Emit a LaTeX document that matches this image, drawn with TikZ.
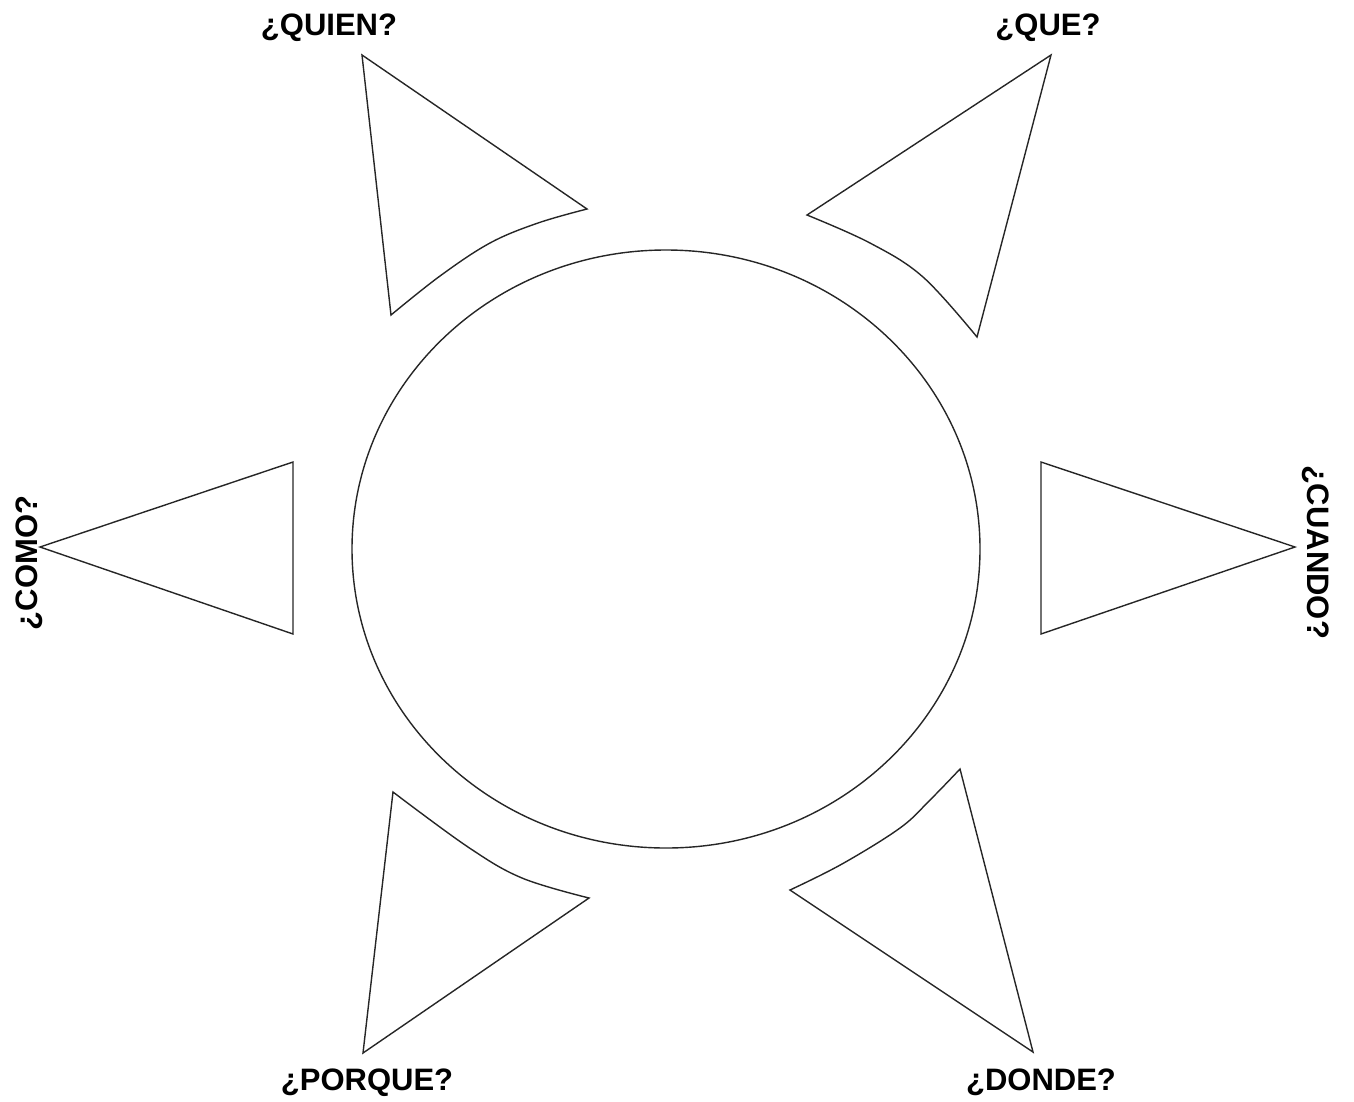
\documentclass[tikz,border=0pt]{standalone}
\usepackage{fontspec}
\setmainfont{Liberation Sans}
\begin{document}
\begin{tikzpicture}[x=1pt,y=-1pt,
  outline/.style={draw=black!85,line width=1.4pt,line join=miter},
  lbl/.style={font=\fontsize{31}{35}\selectfont\bfseries,inner sep=0pt,anchor=base}]
\useasboundingbox (0,0) rectangle (1354,1101);
% central circle
\draw[outline] (666,549) ellipse [x radius=314, y radius=299];
% QUIEN
\draw[outline] (362,55) -- (587,209)
  -- plot[smooth,tension=0.6] coordinates {(587,209) (538,223) (490,243) (440,276) (391,315)} -- cycle;
% QUE
\draw[outline] (1051,55) -- (807,215)
  -- plot[smooth,tension=0.6] coordinates {(807,215) (870,243) (923,277) (977,337)} -- cycle;
% PORQUE
\draw[outline] (363,1053) -- (393,792)
  -- plot[smooth,tension=0.6] coordinates {(393,792) (468,847) (522,878) (589,898)} -- cycle;
% DONDE
\draw[outline] (1033,1052) -- (960,769)
  -- plot[smooth,tension=0.6] coordinates {(960,769) (930,800) (900,828) (842,864) (790,890)} -- cycle;
% COMO
\draw[outline] (40,547) -- (293,462) -- (293,634) -- cycle;
% CUANDO
\draw[outline] (1295,547) -- (1041,462) -- (1041,634) -- cycle;
% labels
\node[lbl] (quien) at (329,35) {¿QUIEN?};
\node[lbl] (que) at (1048,35) {¿QUE?};
\node[lbl] (porque) at (367,1090) {¿PORQUE?};
\node[lbl] (donde) at (1041,1090) {¿DONDE?};
\node[lbl,rotate=90] (como) at (37,563) {¿COMO?};
\node[lbl,rotate=-90] (cuando) at (1307,552) {¿CUANDO?};
\end{tikzpicture}
\end{document}
